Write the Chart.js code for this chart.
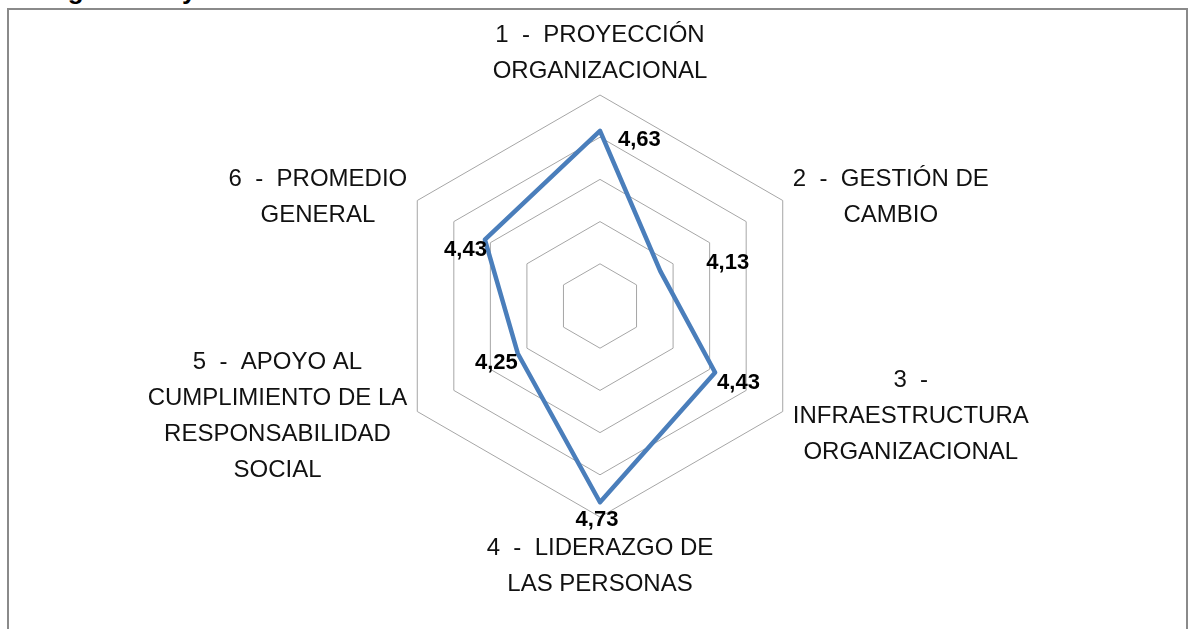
<!DOCTYPE html>
<html>
<head>
<meta charset="utf-8">
<script src="https://cdn.jsdelivr.net/npm/chart.js@4/dist/chart.umd.min.js"></script>
<style>
  html, body { margin: 0; padding: 0; background: #fff; overflow: hidden; }
  body { width: 1188px; height: 629px; position: relative; }
  .cut-title {
    position: absolute; left: 36px; top: -23px;
    font: bold 26px "Liberation Sans", Arial, sans-serif; line-height: 26px; color: #000;
  }
  .frame {
    position: absolute; left: 7px; top: 8px; width: 1177px; height: 700px;
    border: 2px solid #8a8a8a; border-bottom: none;
  }
  #radar { position: absolute; left: 0; top: 0; }
</style>
</head>
<body>
<div class="cut-title">Seguros Boyacá</div>
<div class="frame"></div>
<canvas id="radar" width="1188" height="629"></canvas>
<script>
// categorías del eje (cada línea es un renglón de la etiqueta)
const categories = [
    ['1  -  PROYECCIÓN', 'ORGANIZACIONAL'],
    ['2  -  GESTIÓN DE', 'CAMBIO'],
    ['3  -', 'INFRAESTRUCTURA', 'ORGANIZACIONAL'],
    ['4  -  LIDERAZGO DE', 'LAS PERSONAS'],
    ['5  -  APOYO AL', 'CUMPLIMIENTO DE LA', 'RESPONSABILIDAD', 'SOCIAL'],
    ['6  -  PROMEDIO', 'GENERAL']
];
const scores = [4.63, 4.13, 4.43, 4.73, 4.25, 4.43];
const scaleMin = 3.8;
const scaleMax = 4.8;
const scaleStep = 0.2;

const LABEL_FONT = '24px "Liberation Sans", Arial, sans-serif';
const VALUE_FONT = 'bold 22px "Liberation Sans", Arial, sans-serif';

// etiquetas de ejes dibujadas a mano para centrar cada bloque de texto
const axisLabelsPlugin = {
    id: 'axisLabels',
    afterDraw(chart) {
        const scale = chart.scales.r;
        const ctx = chart.ctx;
        const lineHeight = 36;
        const gap = 10;
        ctx.save();
        ctx.font = LABEL_FONT;
        ctx.fillStyle = '#111';
        ctx.textAlign = 'center';
        ctx.textBaseline = 'middle';
        categories.forEach((lines, i) => {
            const p = scale.getPointPosition(i, scale.drawingArea);
            const maxW = Math.max(...lines.map(l => ctx.measureText(l).width));
            const blockH = lines.length * lineHeight;
            let cx = p.x;
            let cy = p.y;
            if (i === 0) {
                cy = p.y - gap - blockH / 2 + 4;
            } else if (i === 3) {
                cy = p.y + gap + blockH / 2 + 3;
            } else {
                cx = p.x + (p.x > scale.xCenter ? 1 : -1) * (maxW / 2 + gap);
                cy = p.y + (p.y > scale.yCenter ? 5 : -3);
            }
            lines.forEach((line, k) => {
                ctx.fillText(line, cx, cy - blockH / 2 + lineHeight * (k + 0.5));
            });
        });
        ctx.restore();
    }
};

// valores junto a cada vértice
const valueLabelsPlugin = {
    id: 'valueLabels',
    afterDatasetsDraw(chart) {
        const placement = [
            {align: 'left', dx: 18, dy: 9},
            {align: 'left', dx: 46, dy: -8},
            {align: 'left', dx: 2, dy: 10},
            {align: 'center', dx: -3, dy: 18},
            {align: 'right', dx: 0, dy: 9},
            {align: 'right', dx: 2, dy: 10}
        ];
        const ctx = chart.ctx;
        const meta = chart.getDatasetMeta(0);
        ctx.save();
        ctx.font = VALUE_FONT;
        ctx.fillStyle = '#000';
        ctx.textBaseline = 'middle';
        meta.data.forEach((pt, i) => {
            const pl = placement[i];
            ctx.textAlign = pl.align;
            const txt = scores[i].toFixed(2).replace('.', ',');
            ctx.fillText(txt, pt.x + pl.dx, pt.y + pl.dy);
        });
        ctx.restore();
    }
};

new Chart(document.getElementById('radar'), {
    type: 'radar',
    data: {
        labels: categories,
        datasets: [{
            label: 'Puntaje',
            data: scores,
            borderColor: '#4a7ebb',
            borderWidth: 4.5,
            borderJoinStyle: 'round',
            fill: false,
            pointRadius: 0,
            pointHoverRadius: 0,
            tension: 0
        }]
    },
    options: {
        responsive: false,
        animation: false,
        devicePixelRatio: 1,
        layout: {
            padding: {left: 389, right: 377, top: 95, bottom: 112}
        },
        plugins: {
            legend: {display: false},
            tooltip: {enabled: false}
        },
        scales: {
            r: {
                min: scaleMin,
                max: scaleMax,
                ticks: {display: false, stepSize: scaleStep},
                grid: {color: '#a6a6a6', lineWidth: 1},
                angleLines: {display: false},
                pointLabels: {display: false}
            }
        }
    },
    plugins: [axisLabelsPlugin, valueLabelsPlugin]
});
</script>
</body>
</html>
